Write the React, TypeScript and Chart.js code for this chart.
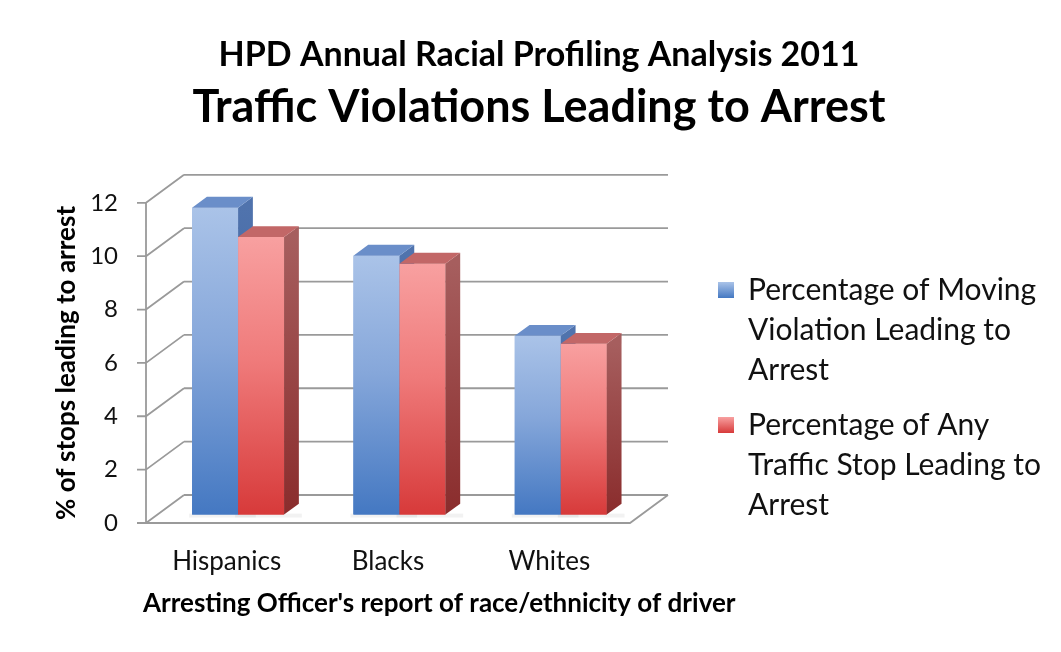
import React, { useEffect, useRef } from 'react';
import { Chart, registerables } from 'chart.js';

Chart.register(...registerables);

// ---- data ----
const categories = ['Hispanics', 'Blacks', 'Whites'];
const movingViolationPct = [11.5, 9.7, 6.7];
const anyTrafficStopPct = [10.4, 9.4, 6.4];
const seriesNames = [
  'Percentage of Moving Violation Leading to Arrest',
  'Percentage of Any Traffic Stop Leading to Arrest',
];
const legendLinesMoving = ['Percentage of Moving', 'Violation Leading to', 'Arrest'];
const legendLinesAny = ['Percentage of Any', 'Traffic Stop Leading to', 'Arrest'];
const yTickValues = [0, 2, 4, 6, 8, 10, 12];
const titleLine1 = 'HPD Annual Racial Profiling Analysis 2011';
const titleLine2 = 'Traffic Violations Leading to Arrest';
const yAxisTitle = '% of stops leading to arrest';
const xAxisTitle = "Arresting Officer's report of race/ethnicity of driver";

// ---- style ----
const FONT = 'Lato, "Open Sans", "DejaVu Sans", sans-serif';
const DEPTH_DX = 38;
const DEPTH_DY = -28;
const BAR_FRONT = 0.3;
const BAR_DEPTH = 0.39;
const GRID = '#9a9a9a';

const palettes = [
  { top: '#aac3e8', mid: '#86a7da', bottom: '#4478c2', side: '#5073ad', sideBottom: '#2f5a98', lid: '#6a8ec9' },
  { top: '#f8a0a0', mid: '#ef7a7a', bottom: '#d73a3a', side: '#a65e5e', sideBottom: '#8a2c2c', lid: '#c26767' },
];

const frontGradient = (idx: number) => (c: any) => {
  const chart = c.chart;
  const ys = chart.scales && chart.scales.y;
  const p = palettes[idx];
  if (!ys || c.type !== 'data') return p.mid;
  const top = ys.getPixelForValue(c.raw);
  const bot = ys.getPixelForValue(0);
  if (!isFinite(top) || !isFinite(bot) || top === bot) return p.mid;
  const g = chart.ctx.createLinearGradient(0, top, 0, bot);
  g.addColorStop(0, p.top);
  g.addColorStop(0.45, p.mid);
  g.addColorStop(1, p.bottom);
  return g;
};

const threeD = {
  id: 'threeD',
  beforeDatasetsDraw(chart: any) {
    const { ctx, chartArea } = chart;
    const ys = chart.scales.y;
    const { left, right } = chartArea;
    const y0 = ys.getPixelForValue(0);
    ctx.save();
    ctx.strokeStyle = GRID;
    ctx.lineWidth = 1.8;
    ctx.beginPath();
    yTickValues.forEach((v) => {
      const y = ys.getPixelForValue(v);
      ctx.moveTo(left + DEPTH_DX, y + DEPTH_DY);
      ctx.lineTo(right + DEPTH_DX, y + DEPTH_DY);
      ctx.moveTo(left, y);
      ctx.lineTo(left + DEPTH_DX, y + DEPTH_DY);
      ctx.moveTo(left - 9, y);
      ctx.lineTo(left, y);
    });
    ctx.moveTo(left, ys.getPixelForValue(12));
    ctx.lineTo(left, y0);
    ctx.moveTo(left, y0);
    ctx.lineTo(right, y0);
    ctx.lineTo(right + DEPTH_DX, y0 + DEPTH_DY);
    ctx.stroke();
    ctx.restore();

    // soft floor shadows under bar groups
    ctx.save();
    chart.data.datasets.forEach((_d: any, di: number) => {
      const meta = chart.getDatasetMeta(di);
      meta.data.forEach((bar: any) => {
        const { x, width } = bar.getProps(['x', 'width'], true);
        const ox = BAR_FRONT * DEPTH_DX;
        const oy = BAR_FRONT * DEPTH_DY;
        const l = x - width / 2 + ox;
        const r = x + width / 2 + ox + BAR_DEPTH * DEPTH_DX;
        ctx.fillStyle = 'rgba(0,0,0,0.05)';
        ctx.fillRect(l - 3, y0 + oy - 1, r - l + 6, 4);
      });
    });
    ctx.restore();

    ctx.save();
    ctx.translate(BAR_FRONT * DEPTH_DX, BAR_FRONT * DEPTH_DY);
  },
  afterDatasetsDraw(chart: any) {
    const { ctx } = chart;
    const sdx = BAR_DEPTH * DEPTH_DX;
    const sdy = BAR_DEPTH * DEPTH_DY;
    // redraw in series order so each red bar sits in front of the blue bar's side face
    chart.data.datasets.forEach((_d: any, di: number) => {
      const p = palettes[di];
      const meta = chart.getDatasetMeta(di);
      meta.data.forEach((bar: any) => {
        bar.draw(ctx);
        const { x, y, base, width } = bar.getProps(['x', 'y', 'base', 'width'], true);
        const l = x - width / 2;
        const r = x + width / 2;
        const sg = ctx.createLinearGradient(0, y, 0, base);
        sg.addColorStop(0, p.side);
        sg.addColorStop(1, p.sideBottom);
        ctx.fillStyle = sg;
        ctx.beginPath();
        ctx.moveTo(r, y);
        ctx.lineTo(r + sdx, y + sdy);
        ctx.lineTo(r + sdx, base + sdy);
        ctx.lineTo(r, base);
        ctx.closePath();
        ctx.fill();
        ctx.fillStyle = p.lid;
        ctx.beginPath();
        ctx.moveTo(l, y);
        ctx.lineTo(l + sdx, y + sdy);
        ctx.lineTo(r + sdx, y + sdy);
        ctx.lineTo(r, y);
        ctx.closePath();
        ctx.fill();
      });
    });
    ctx.restore();
  },
};

const sideText = {
  id: 'sideText',
  afterDraw(chart: any) {
    const { ctx } = chart;
    ctx.save();
    // x-axis title
    ctx.font = `bold 26px ${FONT}`;
    ctx.fillStyle = '#000';
    ctx.textBaseline = 'middle';
    ctx.textAlign = 'left';
    ctx.fillText(xAxisTitle, 143, 604);
    // legend
    const groups = [
      { lines: legendLinesMoving, y: 290, p: palettes[0] },
      { lines: legendLinesAny, y: 425, p: palettes[1] },
    ];
    ctx.font = `30px ${FONT}`;
    groups.forEach((g) => {
      const sq = 16;
      const sy = g.y - sq / 2;
      const grad = ctx.createLinearGradient(0, sy, 0, sy + sq);
      grad.addColorStop(0, g.p.top);
      grad.addColorStop(1, g.p.bottom);
      ctx.fillStyle = grad;
      ctx.fillRect(718, sy, sq, sq);
      ctx.fillStyle = '#111';
      g.lines.forEach((t, i) => ctx.fillText(t, 748, g.y + i * 40));
    });
    ctx.restore();
  },
};

export default function App() {
  const ref = useRef<HTMLCanvasElement | null>(null);
  useEffect(() => {
    if (!ref.current) return;
    const chart = new Chart(ref.current, {
      type: 'bar',
      data: {
        labels: categories,
        datasets: [
          {
            label: seriesNames[0],
            data: movingViolationPct,
            backgroundColor: frontGradient(0),
            borderWidth: 0,
            categoryPercentage: 0.57,
            barPercentage: 1,
            clip: false as any,
          },
          {
            label: seriesNames[1],
            data: anyTrafficStopPct,
            backgroundColor: frontGradient(1),
            borderWidth: 0,
            categoryPercentage: 0.57,
            barPercentage: 1,
            clip: false as any,
          },
        ],
      },
      options: {
        responsive: false,
        animation: false,
        layout: { padding: { left: 17, right: 0, top: 0, bottom: 0 } },
        plugins: {
          legend: { display: false },
          tooltip: { enabled: false },
          title: {
            display: true,
            text: titleLine1,
            color: '#000',
            font: { family: FONT, size: 34, weight: 'bold' },
            padding: { top: 35, bottom: 0 },
          },
          subtitle: {
            display: true,
            text: titleLine2,
            color: '#000',
            font: { family: FONT, size: 45, weight: 'bold' },
            padding: { top: 5, bottom: 68 },
          },
        },
        scales: {
          x: {
            grid: { display: false, drawTicks: false },
            border: { display: false },
            ticks: { color: '#111', font: { family: FONT, size: 26 }, padding: 23 },
            title: { display: false },
            afterFit: (s: any) => { s.height = 129; },
          },
          y: {
            min: 0,
            max: 12,
            afterBuildTicks: (s: any) => { s.ticks = yTickValues.map((v) => ({ value: v })); },
            grid: { display: false, drawTicks: false },
            border: { display: false },
            ticks: { color: '#111', font: { family: FONT, size: 24 }, padding: 28 },
            title: {
              display: true,
              text: yAxisTitle,
              color: '#000',
              font: { family: FONT, size: 26, weight: 'bold' },
              padding: { top: 34, bottom: 0 },
            },
            afterFit: (s: any) => { s.width = 146 - 17; },
          },
          spacer: {
            type: 'linear',
            position: 'right',
            display: true,
            grid: { display: false, drawTicks: false },
            border: { display: false },
            ticks: { display: false },
            afterFit: (s: any) => { s.width = 1061 - 630; },
          },
        },
      },
      plugins: [threeD, sideText],
    });
    return () => chart.destroy();
  }, []);
  return (
    <div style={{ position: 'fixed', left: 0, top: 0, width: 1061, height: 652, background: '#fff' }}>
      <canvas ref={ref} width={1061} height={652} style={{ display: 'block' }} />
    </div>
  );
}
